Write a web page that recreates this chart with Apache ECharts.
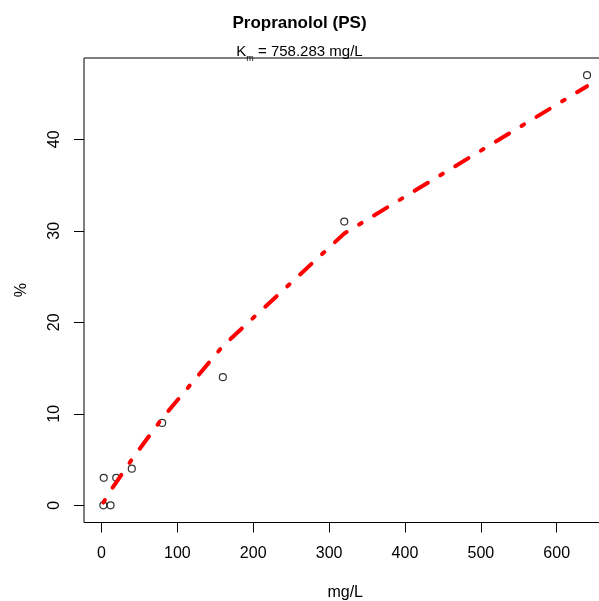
<!DOCTYPE html>
<html>
<head>
<meta charset="utf-8">
<script src="https://cdn.jsdelivr.net/npm/echarts@6/dist/echarts.min.js"></script>
<style>
  html, body { margin: 0; padding: 0; background: #fff; }
  #chart { width: 599px; height: 601px; }
</style>
</head>
<body>
<div id="chart"></div>
<script>
// Observed uptake (%) against concentration (mg/L)
var concentration = [2.5, 3, 12, 19.5, 40, 80, 160, 320, 640];
var percent = [0, 3, 0, 3, 4, 9, 14, 31, 47];

// Michaelis-Menten fit evaluated at the measured concentrations
var fitConcentration = [2.5, 3, 12, 19.5, 40, 80, 160, 320, 640];
var fitPercent = [0.3, 0.4, 1.6, 2.5, 5.0, 9.5, 17.4, 29.7, 45.8];

var xTicks = [0, 100, 200, 300, 400, 500, 600];
var yTicks = [0, 10, 20, 30, 40];

var xMin = -23, xMax = 665.5;
var yMin = -1.88, yMax = 48.88;

var points = concentration.map(function (c, i) { return [c, percent[i]]; });
var fitLine = fitConcentration.map(function (c, i) { return [c, fitPercent[i]]; });

var font = '"Liberation Sans", Arial, sans-serif';

var chart = echarts.init(document.getElementById('chart'), null, { renderer: 'canvas' });
chart.setOption({
  animation: false,
  backgroundColor: '#fff',
  title: [
    {
      text: 'Propranolol (PS)',
      left: 'center',
      top: 10,
      textStyle: { fontFamily: font, fontSize: 17, fontWeight: 'bold', color: '#000' }
    },
    {
      text: '{k|K}{s|m}{k| = 758.283 mg/L}',
      left: 'center',
      top: 38,
      textStyle: {
        fontFamily: font,
        fontWeight: 'normal',
        rich: {
          k: { fontFamily: font, fontSize: 15, fontWeight: 'normal', color: '#000', lineHeight: 18, verticalAlign: 'middle' },
          s: { fontFamily: font, fontSize: 9, fontWeight: 'normal', color: '#000', lineHeight: 10, verticalAlign: 'bottom', padding: [0, 0, -2, 0] }
        }
      }
    }
  ],
  grid: {
    left: 84,
    top: 58,
    width: 522.4,
    height: 464.5,
    outerBoundsMode: 'none',
    containLabel: false,
    show: true,
    borderColor: '#000',
    borderWidth: 1,
    backgroundColor: 'transparent'
  },
  xAxis: {
    type: 'value',
    min: xMin,
    max: xMax,
    name: 'mg/L',
    nameLocation: 'middle',
    nameGap: 62,
    nameTextStyle: { fontFamily: font, fontSize: 16, color: '#000', verticalAlign: 'top' },
    axisLine: { show: false, onZero: false },
    splitLine: { show: false },
    axisTick: {
      show: true, inside: false, length: 10,
      customValues: xTicks,
      lineStyle: { color: '#000', width: 1 }
    },
    axisLabel: {
      show: true, margin: 23,
      customValues: xTicks,
      fontFamily: font, fontSize: 16, color: '#000'
    }
  },
  yAxis: {
    type: 'value',
    min: yMin,
    max: yMax,
    name: '%',
    nameLocation: 'middle',
    nameGap: 54,
    nameTextStyle: { fontFamily: font, fontSize: 16, color: '#000' },
    axisLine: { show: false, onZero: false },
    splitLine: { show: false },
    axisTick: {
      show: true, inside: false, length: 10,
      customValues: yTicks,
      lineStyle: { color: '#000', width: 1 }
    },
    axisLabel: {
      show: true, margin: 21, rotate: 90,
      customValues: yTicks,
      fontFamily: font, fontSize: 16, color: '#000'
    }
  },
  series: [
    {
      type: 'scatter',
      data: points,
      symbol: 'circle',
      symbolSize: 7,
      itemStyle: { color: 'transparent', borderColor: '#000', borderWidth: 1.2 },
      z: 2
    },
    {
      type: 'line',
      data: fitLine,
      showSymbol: false,
      smooth: false,
      lineStyle: {
        color: '#ff0000',
        width: 4,
        type: [3, 14.5, 15.5, 14.5],
        cap: 'round',
        join: 'round'
      },
      z: 3
    }
  ]
});
</script>
</body>
</html>
